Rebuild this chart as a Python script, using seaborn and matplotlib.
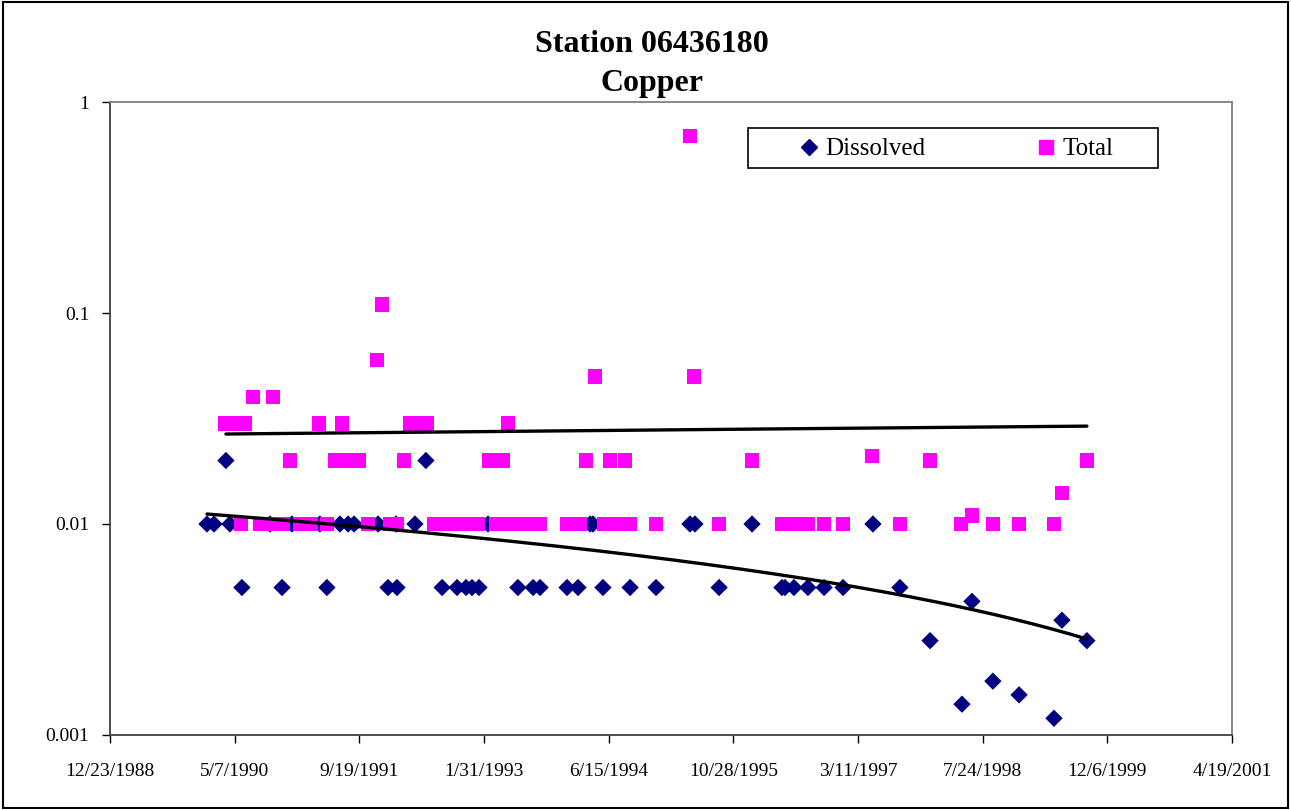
import datetime as dt
import numpy as np
import pandas as pd
import matplotlib
matplotlib.use("Agg")
import matplotlib.pyplot as plt
from matplotlib.ticker import FixedLocator, FuncFormatter, NullLocator
from matplotlib.lines import Line2D
from matplotlib.patches import Rectangle
import seaborn as sns

# ---- data (dates as Excel serial day numbers) ----
dissolved_dates = [32965, 33767,
                   32889, 32917, 32981, 33142, 33230, 33342, 33422, 33455, 33479, 33575,
                   33647, 33723, 34016, 34425, 34437, 34826, 34846, 35075, 35560,
                   33029, 33190, 33370, 33615, 33651, 33832, 33892, 33928, 33952, 33980,
                   34136, 34197, 34225, 34333, 34377, 34477, 34586, 34690, 34943, 35195,
                   35207, 35243, 35299, 35364, 35440, 35668,
                   35789, 35917, 35957, 36041, 36146, 36286, 36318, 36418]
dissolved_vals = [0.02, 0.02,
                  0.01, 0.01, 0.01, 0.01, 0.01, 0.01, 0.01, 0.01, 0.01, 0.01,
                  0.01, 0.01, 0.01, 0.01, 0.01, 0.01, 0.01, 0.01, 0.01,
                  0.005, 0.005, 0.005, 0.005, 0.005, 0.005, 0.005, 0.005, 0.005, 0.005,
                  0.005, 0.005, 0.005, 0.005, 0.005, 0.005, 0.005, 0.005, 0.005, 0.005,
                  0.005, 0.005, 0.005, 0.005, 0.005, 0.005,
                  0.0028, 0.0014, 0.0043, 0.0018, 0.00155, 0.0012, 0.0035, 0.0028]

total_dates = [34826, 33591, 33571, 34445, 34842, 33074, 33154,
               32961, 33001, 33041, 33338, 33430, 33703, 33743, 33771, 34096,
               35556,
               33222, 33402, 33459, 33499, 33679, 34020, 34076, 34409, 34505, 34566,
               35075, 35789, 36418,
               36318, 35957,
               33025, 33102, 33150, 33194, 33262, 33306, 33370, 33535, 33623, 33651,
               33799, 33828, 33856, 33884, 33912, 33944, 33976, 34048, 34084, 34112,
               34144, 34176, 34225, 34333, 34385, 34481, 34525, 34553, 34586, 34690,
               34943, 35195, 35227, 35267, 35299, 35364, 35440, 35668, 35913, 36041,
               36146, 36286]
total_vals = [0.69, 0.11, 0.06, 0.05, 0.05, 0.04, 0.04,
              0.03, 0.03, 0.03, 0.03, 0.03, 0.03, 0.03, 0.03, 0.03,
              0.021,
              0.02, 0.02, 0.02, 0.02, 0.02, 0.02, 0.02, 0.02, 0.02, 0.02,
              0.02, 0.02, 0.02,
              0.014, 0.011,
              0.01, 0.01, 0.01, 0.01, 0.01, 0.01, 0.01, 0.01, 0.01, 0.01,
              0.01, 0.01, 0.01, 0.01, 0.01, 0.01, 0.01, 0.01, 0.01, 0.01,
              0.01, 0.01, 0.01, 0.01, 0.01, 0.01, 0.01, 0.01, 0.01, 0.01,
              0.01, 0.01, 0.01, 0.01, 0.01, 0.01, 0.01, 0.01, 0.01, 0.01,
              0.01, 0.01]

# linear trend lines (start/end of each fitted line)
dissolved_trend_dates = [32889, 36418]
dissolved_trend_vals = [0.01115, 0.00285]
total_trend_dates = [32965, 36418]
total_trend_vals = [0.0267, 0.0291]

x_ticks = list(range(32500, 37001, 500))
y_ticks = [0.001, 0.01, 0.1, 1]
y_tick_labels = ["0.001", "0.01", "0.1", "1"]

title_1 = "Station 06436180"
title_2 = "Copper"
series_names = ["Dissolved", "Total"]
navy = "#000080"
magenta = "#FF00FF"

# ---- plotting ----
sns.set_theme(style="white")
plt.rcParams["font.family"] = ["Liberation Serif", "DejaVu Serif"]
plt.rcParams["text.color"] = "black"
plt.rcParams["axes.labelcolor"] = "black"
plt.rcParams["xtick.color"] = "black"
plt.rcParams["ytick.color"] = "black"

W, H = 1291, 810
fig = plt.figure(figsize=(W / 100, H / 100), dpi=100)
ax = fig.add_axes([110 / W, 1 - 735 / H, (1232 - 110) / W, (735 - 102) / H])

dd = pd.DataFrame({"date": dissolved_dates, "value": dissolved_vals})
td = pd.DataFrame({"date": total_dates, "value": total_vals})

sns.scatterplot(data=dd, x="date", y="value", marker="D", s=78, color=navy,
                edgecolor="none", linewidth=0, ax=ax, zorder=3)
sns.scatterplot(data=td, x="date", y="value", marker="s", s=110, color=magenta,
                edgecolor="none", linewidth=0, ax=ax, zorder=4)


def trend(dates, vals):
    slope = (vals[1] - vals[0]) / (dates[1] - dates[0])
    xs = np.linspace(dates[0], dates[1], 200)
    return pd.DataFrame({"date": xs, "value": vals[0] + slope * (xs - dates[0])})


sns.lineplot(data=trend(total_trend_dates, total_trend_vals), x="date", y="value",
             color="black", linewidth=2.4, ax=ax, zorder=5)
sns.lineplot(data=trend(dissolved_trend_dates, dissolved_trend_vals), x="date", y="value",
             color="black", linewidth=2.4, ax=ax, zorder=5)

ax.set_yscale("log")
ax.set_ylim(0.001, 1)
ax.set_xlim(32500, 37000)
ax.xaxis.set_major_locator(FixedLocator(x_ticks))
ax.yaxis.set_major_locator(FixedLocator(y_ticks))
ax.yaxis.set_minor_locator(NullLocator())
ax.xaxis.set_minor_locator(NullLocator())


def serial_to_str(v, pos=None):
    d = dt.datetime(1899, 12, 30) + dt.timedelta(days=int(round(v)))
    return f"{d.month}/{d.day}/{d.year}"


ax.xaxis.set_major_formatter(FuncFormatter(serial_to_str))
ax.set_yticklabels(y_tick_labels)
ax.set_xlabel("")
ax.set_ylabel("")
ax.tick_params(axis="both", which="major", direction="out", length=6, width=1,
               color="black", labelsize=14, labelcolor="black")
ax.tick_params(axis="x", pad=14)
ax.tick_params(axis="y", pad=9)
ax.tick_params(bottom=True, left=True)
for side in ["top", "right"]:
    ax.spines[side].set_color("#808080")
    ax.spines[side].set_linewidth(1.3)
for side in ["left", "bottom"]:
    ax.spines[side].set_color("#404040")
    ax.spines[side].set_linewidth(1.3)
ax.grid(False)

# legend (frameless entries inside a drawn box)
box_l, box_r, box_t, box_b = 748, 1158, 128, 168
fig.patches.append(Rectangle((box_l / W, 1 - box_b / H), (box_r - box_l) / W,
                             (box_b - box_t) / H, transform=fig.transFigure,
                             fill=True, facecolor="white", edgecolor="black",
                             linewidth=1.2, zorder=10))
handles = [Line2D([], [], marker="D", linestyle="none", color=navy, markersize=8.5),
           Line2D([], [], marker="s", linestyle="none", color=magenta, markersize=10.5)]
leg = fig.legend(handles, series_names, loc="center",
                 bbox_to_anchor=(955 / W, 1 - 149 / H),
                 ncol=2, frameon=False, fontsize=18,
                 columnspacing=4.3, handletextpad=0.15, handlelength=1.0,
                 borderpad=0.0, borderaxespad=0)
leg.set_zorder(11)
for t in leg.get_texts():
    t.set_color("black")

fig.text(652 / W, 1 - 45 / H, title_1, ha="center", va="center",
         fontsize=23, fontweight="bold", color="black")
fig.text(652 / W, 1 - 83 / H, title_2, ha="center", va="center",
         fontsize=23, fontweight="bold", color="black")

fig.patches.append(Rectangle((0.002, 0.002), 0.996, 0.996, transform=fig.transFigure,
                             fill=False, edgecolor="black", linewidth=1.5))

fig.savefig("out.png", dpi=100, facecolor="white")
